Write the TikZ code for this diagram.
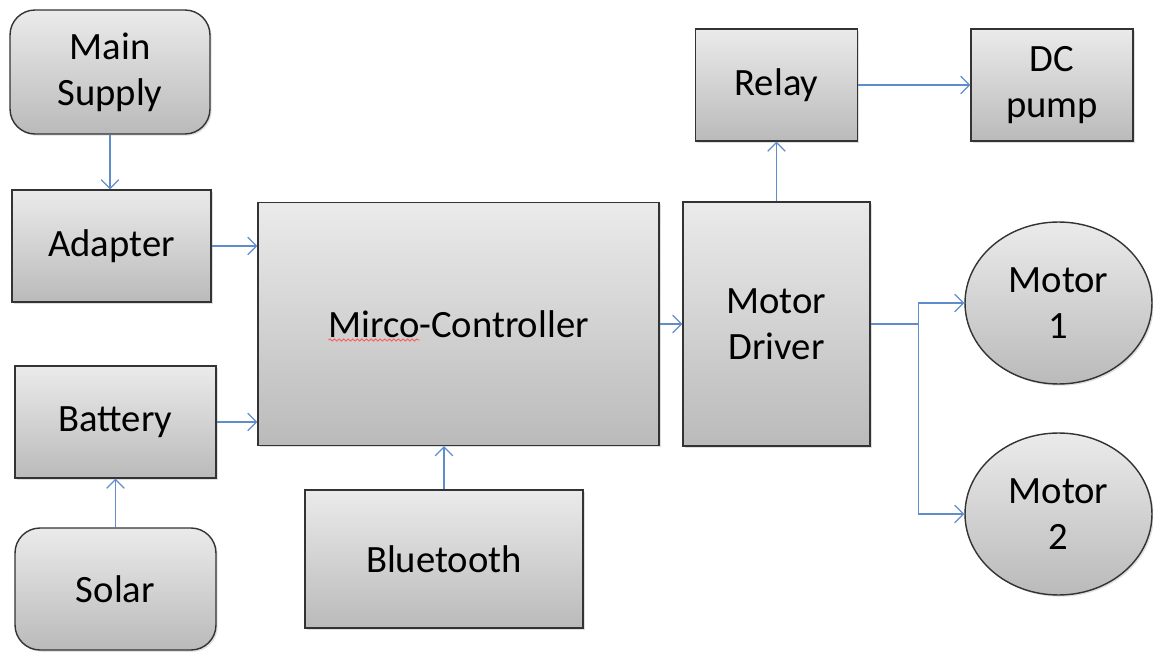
\documentclass[tikz,border=0pt]{standalone}
\usepackage{fontspec}
\setmainfont{Carlito}
\usepackage{xcolor}
\usepackage{tikz}
\usetikzlibrary{shapes.geometric, arrows.meta, positioning, calc, shadows, decorations.pathmorphing}

\definecolor{wireblue}{HTML}{5F8DCB}

\begin{document}
\begin{tikzpicture}[
        x=0.02cm, y=-0.02cm,
        block/.style={rectangle, draw=black!80, line width=0.8pt, top color=black!8, bottom color=black!27,
            drop shadow={opacity=0.25, shadow xshift=1pt, shadow yshift=-1pt},
            align=center, inner sep=0pt, font=\fontsize{22}{26}\selectfont},
        source/.style={block, rounded corners=0.5cm},
        motor/.style={block, ellipse, minimum width=3.74cm, minimum height=3.24cm},
        wire/.style={-{Straight Barb[length=5pt, width=10pt]}, line width=0.7pt, draw=wireblue},
        squiggle/.style={draw=red!65, line width=0.5pt, decorate, decoration={snake, amplitude=0.6pt, segment length=2.6pt}}
    ]
    \useasboundingbox (0,0) rectangle (1153,652);

    % Power inputs
    \node[source, minimum width=4cm, minimum height=2.48cm] (supply) at (110,72) {Main\\Supply};
    \node[block, minimum width=3.98cm, minimum height=2.24cm] (adapter) at (111.5,246) {Adapter};
    \node[block, minimum width=4.02cm, minimum height=2.24cm] (battery) at (115.5,422) {Battery};
    \node[source, minimum width=4.02cm, minimum height=2.44cm] (solar) at (115.5,589) {Solar};
    \draw[wire] (supply.south) -- (supply.south |- adapter.north);
    \draw[wire] (solar.north) -- (battery.south);

    % Controller and Bluetooth
    \node[block, minimum width=8.02cm, minimum height=4.86cm] (ctrl) at (458.5,324) {Mirco-Controller};
    \draw[squiggle] ($(ctrl.center)+(-130,16)$) -- ($(ctrl.center)+(-39,16)$);
    \node[block, minimum width=5.56cm, minimum height=2.76cm] (bt) at (444,559) {Bluetooth};
    \draw[wire] (adapter.east) -- (adapter.east -| ctrl.west);
    \draw[wire] (battery.east) -- (battery.east -| ctrl.west);
    \draw[wire] (bt.north) -- (bt.north |- ctrl.south);

    % Motor driver, relay and pump
    \node[block, minimum width=3.74cm, minimum height=4.88cm] (mdrv) at (776.5,324) {Motor\\Driver};
    \node[block, minimum width=3.24cm, minimum height=2.24cm] (relay) at (776.5,85) {Relay};
    \node[block, minimum width=3.24cm, minimum height=2.24cm] (pump) at (1052,85) {DC\\pump};
    \draw[wire] (ctrl.east) -- (mdrv.west);
    \draw[wire] (mdrv.north) -- (relay.south);
    \draw[wire] (relay.east) -- (pump.west);

    % Motors
    \node[motor] (motor1) at (1058.5,303) {Motor\\1};
    \node[motor] (motor2) at (1058.5,514) {Motor\\2};
    \coordinate (split) at ($(mdrv.east)+(48,0)$);
    \draw[wire] (mdrv.east) -- (split) |- (motor1.west);
    \draw[wire] (split) |- (motor2.west);

\end{tikzpicture}
\end{document}
